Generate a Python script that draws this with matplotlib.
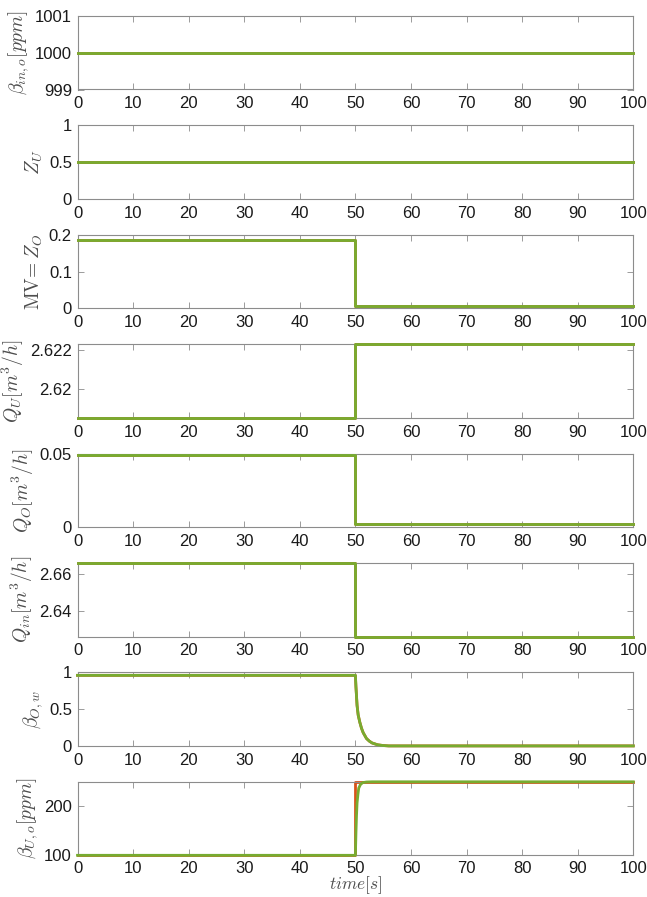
import matplotlib
matplotlib.use("Agg")
import matplotlib.pyplot as plt

plt.rcParams['font.family'] = ['Liberation Sans', 'DejaVu Sans']
plt.rcParams['mathtext.fontset'] = 'cm'

red = '#D95319'
green = '#77AC30'

# step signals (value before / after t = 50 s)
t_step = [0, 50, 50, 100]
beta_in = [1000, 1000, 1000, 1000]
z_u = [0.5, 0.5, 0.5, 0.5]
mv_zo = [0.1865, 0.1865, 0.006, 0.006]
q_u = [2.61855, 2.61855, 2.6223, 2.6223]
q_o = [0.0493, 0.0493, 0.0019, 0.0019]
q_in = [2.6663, 2.6663, 2.6260, 2.6260]

# beta_O,w decay
t_bow = [0, 50, 50.1, 50.3, 50.5, 50.8, 51.1, 51.4, 52.0, 52.5, 53.0, 54.0, 55.0, 56.0, 100]
beta_ow = [0.96, 0.96, 0.80, 0.55, 0.42, 0.32, 0.24, 0.18, 0.10, 0.065, 0.04, 0.015, 0.005, 0.0, 0.0]

# beta_U,o: reference (red) and response (green)
beta_uo_ref = [100, 100, 247.7, 247.7]
t_buo = [0, 50, 50.1, 50.2, 50.3, 50.45, 50.6, 50.9, 51.3, 52.0, 53.0, 100]
beta_uo = [100, 100, 145, 180, 205, 222, 235, 242, 246, 247.3, 247.7, 247.7]

panels = [
    (t_step, beta_in, t_step, beta_in, (999, 1001), [999, 1000, 1001], r'$\beta_{in,o}[ppm]$'),
    (t_step, z_u, t_step, z_u, (0, 1), [0, 0.5, 1], r'$Z_U$'),
    (t_step, mv_zo, t_step, mv_zo, (0, 0.2), [0, 0.1, 0.2], r'$\mathrm{MV}\!=Z_O$'),
    (t_step, q_u, t_step, q_u, (2.61855, 2.6223), [2.62, 2.622], r'$Q_U[m^3/h]$'),
    (t_step, q_o, t_step, q_o, (0, 0.05), [0, 0.05], r'$Q_O[m^3/h]$'),
    (t_step, q_in, t_step, q_in, (2.6260, 2.6663), [2.64, 2.66], r'$Q_{in}[m^3/h]$'),
    (t_bow, beta_ow, t_bow, beta_ow, (0, 1), [0, 0.5, 1], r'$\beta_{O,w}$'),
    (t_step, beta_uo_ref, t_buo, beta_uo, (100, 247.7), [100, 200], r'$\beta_{U,o}[ppm]$'),
]

W, H = 647, 897
fig = plt.figure(figsize=(W / 100, H / 100), dpi=100)

left, right = 77.5, 633.3
for i, (tr, yr, tg, yg, ylim, yticks, label) in enumerate(panels):
    top = 16 + 109.4 * i
    h = 73.5
    ax = fig.add_axes([left / W, 1 - (top + h) / H, (right - left) / W, h / H])
    ax.plot(tr, yr, color=red, lw=2, clip_on=False, zorder=2)
    ax.plot(tg, yg, color=green, lw=2, clip_on=False, zorder=3)
    ax.set_xlim(0, 100)
    ax.set_ylim(*ylim)
    ax.set_xticks(range(0, 101, 10))
    ax.set_yticks(yticks)
    ax.set_yticklabels([f"{v:g}" for v in yticks])
    for s in ax.spines.values():
        s.set_color('#8c8c8c')
        s.set_linewidth(0.8)
    ax.tick_params(direction='in', top=True, right=True, length=4, width=0.6,
                   color='#8c8c8c', labelsize=12, labelcolor='#1a1a1a', pad=4)
    ax.tick_params(axis='x', pad=4 if i == len(panels) - 1 else 5)
    ax.set_ylabel(label, fontsize=14, color='#4d4d4d', labelpad=3)

# x label placed just under the last row of tick labels
fig.text((left + right) / 2 / W, 1 - 896 / H, r'$time[s]$', fontsize=12.5,
         color='#4d4d4d', ha='center', va='bottom')

fig.savefig("out.png", dpi=100)
